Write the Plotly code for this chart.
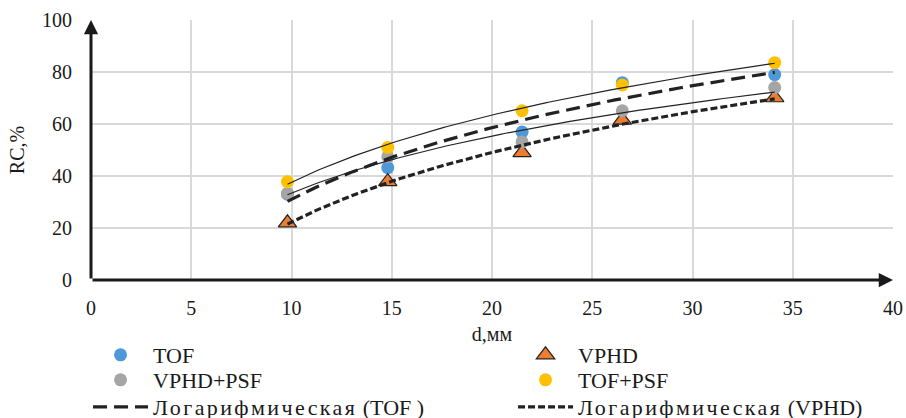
import numpy as np
import plotly.graph_objects as go

# ---- data ----
d_mm = [9.8, 14.8, 21.5, 26.5, 34.1]
rc_tof = [33.0, 43.2, 56.9, 75.9, 79.0]
rc_vphd = [22.0, 37.8, 49.0, 61.5, 70.1]
rc_vphd_psf = [33.3, 47.4, 53.1, 65.1, 74.0]
rc_tof_psf = [37.8, 51.0, 65.1, 75.0, 83.6]

x_ticks = [0, 5, 10, 15, 20, 25, 30, 35, 40]
y_ticks = [0, 20, 40, 60, 80, 100]

FONT = "Liberation Serif"
C_TOF = "#4e97d8"
C_VPHD = "#ed7d31"
C_VPHD_PSF = "#a5a5a5"
C_TOF_PSF = "#ffc000"

CYR = '<span style="letter-spacing:2.4px">Логарифмическая</span>'


def log_trend(x, y, n=120):
    x = np.asarray(x, float)
    y = np.asarray(y, float)
    b, a = np.polyfit(np.log(x), y, 1)
    xs = np.linspace(x.min(), x.max(), n)
    return xs, a + b * np.log(xs)


fig = go.Figure()

marker_series = [
    ("TOF", rc_tof, dict(symbol="circle", size=13, color=C_TOF), "legend"),
    ("VPHD", rc_vphd, dict(symbol="triangle-up", size=16, color=C_VPHD,
                           line=dict(color="#222222", width=1.2)), "legend"),
    ("VPHD+PSF", rc_vphd_psf, dict(symbol="circle", size=13, color=C_VPHD_PSF), "legend2"),
    ("TOF+PSF", rc_tof_psf, dict(symbol="circle", size=13, color=C_TOF_PSF), "legend2"),
]
for name, ys, mk, lg in marker_series:
    fig.add_trace(go.Scatter(x=d_mm, y=ys, mode="markers", name=name, marker=mk,
                             legend=lg))

# thin solid trendlines (not in legend)
for ys in (rc_tof_psf, rc_vphd_psf):
    xs, yf = log_trend(d_mm, ys)
    fig.add_trace(go.Scatter(x=xs, y=yf, mode="lines", showlegend=False,
                             line=dict(color="#222222", width=1.2),
                             hoverinfo="skip"))

xs, yf = log_trend(d_mm, rc_tof)
fig.add_trace(go.Scatter(x=xs, y=yf, mode="lines", name=CYR + " (TOF )",
                         legend="legend3",
                         line=dict(color="#222222", width=3.2, dash="14px,7px")))
xs, yf = log_trend(d_mm, rc_vphd)
fig.add_trace(go.Scatter(x=xs, y=yf, mode="lines", name=CYR + " (VPHD)",
                         legend="legend3",
                         line=dict(color="#222222", width=3.2, dash="7px,3px")))

# axis lines with arrows
fig.add_annotation(x=40, y=0, ax=0, ay=0, xref="x", yref="y", axref="x", ayref="y",
                   showarrow=True, arrowhead=2, arrowsize=0.95, arrowwidth=3,
                   arrowcolor="#1a1a1a", text="")
fig.add_annotation(x=0, y=100, ax=0, ay=0, xref="x", yref="y", axref="x", ayref="y",
                   showarrow=True, arrowhead=2, arrowsize=0.95, arrowwidth=3,
                   arrowcolor="#1a1a1a", text="")

leg_common = dict(orientation="h", x=-0.0037, xanchor="left", yanchor="middle",
                  entrywidth=355, entrywidthmode="pixels", itemwidth=55,
                  font=dict(family=FONT, size=22, color="#1a1a1a"),
                  bgcolor="rgba(0,0,0,0)", borderwidth=0)

fig.update_layout(
    width=906, height=418,
    margin=dict(l=91, r=13, t=20, b=138, autoexpand=False),
    paper_bgcolor="white", plot_bgcolor="white",
    font=dict(family=FONT, size=20, color="#1a1a1a"),
    legend=dict(y=-0.2885, **leg_common),
    legend2=dict(y=-0.3846, **leg_common),
    legend3=dict(y=-0.4885, **leg_common),
    xaxis=dict(range=[0, 40], tickvals=x_ticks, ticktext=[str(v) for v in x_ticks],
               showgrid=True, gridcolor="#d9d9d9", gridwidth=1.5,
               zeroline=False, showline=False, ticks="", ticklabelstandoff=14,
               ticklabeloverflow="allow",
               title=dict(text="d,мм", font=dict(size=20), standoff=8)),
    yaxis=dict(range=[0, 100], tickvals=y_ticks, ticktext=[str(v) for v in y_ticks],
               showgrid=True, gridcolor="#d9d9d9", gridwidth=1.5,
               zeroline=False, showline=False, ticks="", ticklabelstandoff=18,
               title=dict(text="RC,%", font=dict(size=20), standoff=12)),
    showlegend=True,
)

fig.write_html("out.html",
               config={"displayModeBar": False},
               post_script="document.body.style.margin='0px';"
                           "document.body.style.overflow='hidden';")
